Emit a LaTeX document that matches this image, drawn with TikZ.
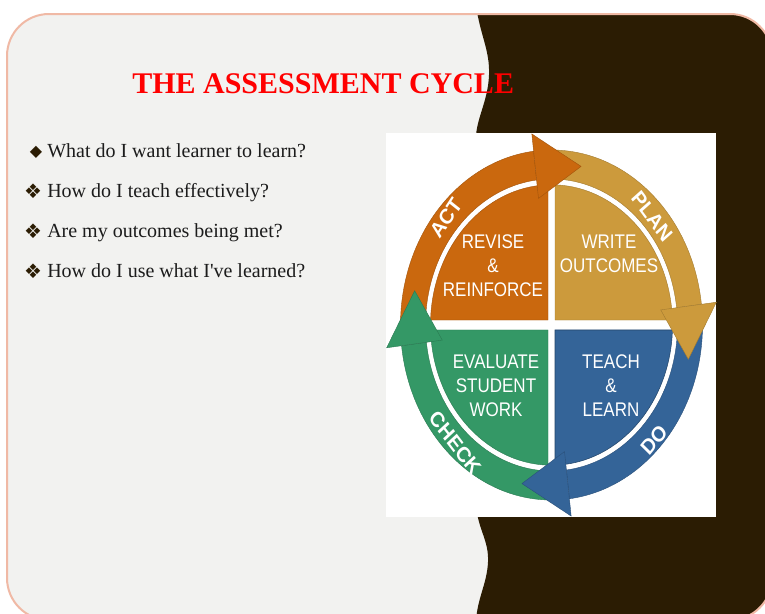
\documentclass[tikz,border=0pt]{standalone}
\usepackage{fontspec}
\setmainfont{Liberation Serif}[Ligatures=TeXOff]
\newfontfamily\arialfont{Liberation Sans}
\newfontfamily\bulletfont{DejaVu Sans}
\usetikzlibrary{positioning}
\definecolor{slidegrey}{RGB}{242,242,240}
\definecolor{slidepink}{RGB}{240,185,165}
\definecolor{darkbrown}{RGB}{43,28,3}
\definecolor{titlered}{RGB}{255,0,0}
\definecolor{textgrey}{RGB}{28,28,28}
\definecolor{actcol}{RGB}{202,104,14}
\definecolor{plancol}{RGB}{204,154,60}
\definecolor{docol}{RGB}{52,100,152}
\definecolor{checkcol}{RGB}{52,152,102}

\begin{document}
\begin{tikzpicture}[x=0.75pt,y=-0.75pt,
    linetext/.style={anchor=base west,inner sep=0pt,text=textgrey,font=\fontsize{15}{18}\selectfont},
    bulletmark/.style={inner sep=0pt,text=darkbrown,font=\bulletfont\fontsize{15}{16}\selectfont},
    quadtext/.style={align=center,text=white,yscale=1.16,font=\arialfont\fontsize{12.75}{15.5}\selectfont},
    arclabel/.style={text=white,inner sep=0pt,yscale=1.1,font=\arialfont\bfseries\fontsize{14.5}{15}\selectfont}]
        \useasboundingbox (0,0) rectangle (765,614);
        \fill[white] (0,0) rectangle (765,614);

        % slide and dark side panel
        \fill[slidegrey,rounded corners=31.5pt] (7,14) rectangle (772,620);
        \begin{scope}
            \clip[rounded corners=31.5pt] (7,14) rectangle (772,620);
            \fill[darkbrown] (476,5) .. controls (480,35) and (490,50) .. (489,75)
                .. controls (488,100) and (478,115) .. (476,135) -- (476,505)
                .. controls (478,530) and (489,540) .. (488,562)
                .. controls (487,585) and (476,600) .. (476,625) -- (780,625) -- (780,5) -- cycle;
        \end{scope}
        \draw[slidepink,line width=1.5pt,rounded corners=31.5pt] (7,14) rectangle (772,620);

        \node[anchor=base west,inner sep=0pt,text=titlered,font=\bfseries\fontsize{22.5}{26}\selectfont] (title) at (132,93) {THE ASSESSMENT CYCLE};

        \node[bulletmark,font=\bulletfont\fontsize{12}{13}\selectfont] (m1) at (36,152) {◆};
        \node[bulletmark] (m2) at (33,191) {❖};
        \node[bulletmark] (m3) at (33,231) {❖};
        \node[bulletmark] (m4) at (33,271) {❖};
        \node[linetext] (q1) at (47,157) {What do I want learner to learn?};
        \node[linetext] (q2) at (47,197) {How do I teach effectively?};
        \node[linetext] (q3) at (47,237) {Are my outcomes being met?};
        \node[linetext] (q4) at (47,277) {How do I use what I've learned?};

        % cycle picture
        \fill[white] (386,133) rectangle (716,517);
        \begin{scope}[shift={(551.5,325)},yscale=-1.159]
            \fill[actcol,draw=actcol!80!black,line width=0.3pt] (-3.5,4.3) -- (91.66:121) arc[start angle=91.66,end angle=177.96,radius=121] -- cycle;
            \fill[plancol,draw=plancol!80!black,line width=0.3pt] (3.5,4.3) -- (2.04:121) arc[start angle=2.04,end angle=88.34,radius=121] -- cycle;
            \fill[docol,draw=docol!70!black,line width=0.4pt] (3.5,-4.3) -- (-88.34:121) arc[start angle=-88.34,end angle=-2.04,radius=121] -- cycle;
            \fill[checkcol,draw=checkcol!80!black,line width=0.3pt] (-3.5,-4.3) -- (182.04:121) arc[start angle=182.04,end angle=268.34,radius=121] -- cycle;
            \foreach \col/\s in {actcol/180,plancol/90,docol/0,checkcol/-90}{
                \pgfmathsetmacro{\e}{\s-83.2}
                \fill[\col,draw=\col!80!black,line width=0.3pt] (\s:151) arc[start angle=\s,end angle=\e,radius=151]
                    -- (\e:126) arc[start angle=\e,end angle=\s,radius=126] -- cycle;
            }
            \foreach \col/\b in {actcol/96.8,plancol/6.8,docol/-83.2,checkcol/-173.2}{
                \fill[\col,draw=\col!80!black,line width=0.3pt] (\b:110) -- (\b:166) -- (\b-19:140) -- cycle;
            }
        \end{scope}

        \node[quadtext] (revise) at (493,266) {REVISE\\\&\\REINFORCE};
        \node[quadtext] (write) at (609,254) {WRITE\\OUTCOMES};
        \node[quadtext] (evaluate) at (496,386) {EVALUATE\\STUDENT\\WORK};
        \node[quadtext] (teach) at (611,386) {TEACH\\\&\\LEARN};

        \node[arclabel,rotate=54] (act) at (446,218) {ACT};
        \node[arclabel,rotate=-51] (plan) at (652,216) {PLAN};
        \node[arclabel,rotate=48] (do) at (654,440) {DO};
        \node[arclabel,rotate=-50] (check) at (455,443) {CHECK};
\end{tikzpicture}
\end{document}
